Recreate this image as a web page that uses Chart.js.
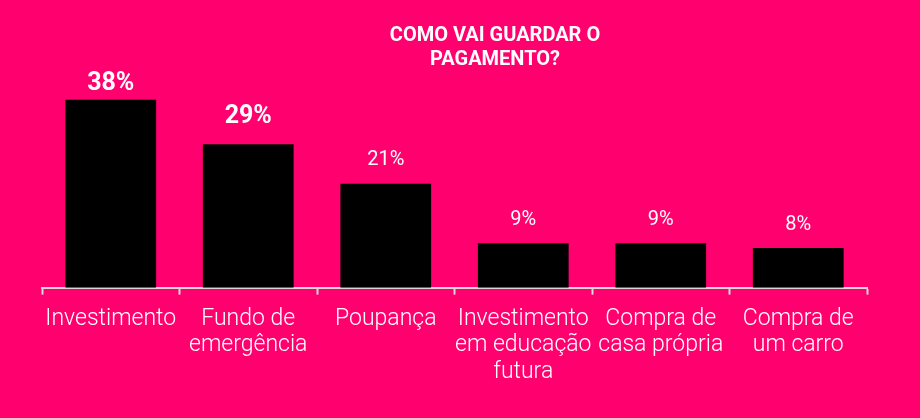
<!DOCTYPE html>
<html>
<head>
<meta charset="utf-8">
<script src="https://cdn.jsdelivr.net/npm/chart.js@4"></script>
<style>
html,body{margin:0;padding:0;background:#ff006e;}
canvas{display:block;}
</style>
</head>
<body>
<canvas id="c" width="920" height="418"></canvas>
<script>
const categories = [
  'Investimento',
  ['Fundo de', 'emergência'],
  'Poupança',
  ['Investimento', 'em educação', 'futura'],
  ['Compra de', 'casa própria'],
  ['Compra de', 'um carro']
];
const values = [38, 29, 21, 9, 9, 8];
const valueLabels = ['38%', '29%', '21%', '9%', '9%', '8%'];
const boldLabels = [true, true, false, false, false, false];
const titleLines = ['COMO VAI GUARDAR O', 'PAGAMENTO?'];

const labelPlugin = {
  id: 'labels',
  afterDatasetsDraw(chart) {
    const ctx = chart.ctx;
    const meta = chart.getDatasetMeta(0);
    ctx.save();
    ctx.fillStyle = '#ffffff';
    ctx.textAlign = 'center';
    ctx.textBaseline = 'middle';
    meta.data.forEach((bar, i) => {
      const bold = boldLabels[i];
      const size = bold ? 25 : 20;
      ctx.font = (bold ? 'bold ' : '') + size + 'px Roboto';
      let y = bar.y - (bold ? 27 : 23.5);
      const minY = chart.chartArea.top + 9;
      if (y < minY) y = minY;
      ctx.fillText(valueLabels[i], bar.x, y);
    });
    // title
    ctx.font = 'bold 20px Roboto';
    titleLines.forEach((t, k) => {
      ctx.fillText(t, 495, 36 + k * 24);
    });
    ctx.restore();
  }
};

new Chart(document.getElementById('c'), {
  type: 'bar',
  data: {
    labels: categories,
    datasets: [{
      data: values,
      backgroundColor: '#000000',
      borderWidth: 0,
      barPercentage: 0.66,
      categoryPercentage: 1
    }]
  },
  options: {
    responsive: false,
    animation: false,
    devicePixelRatio: 1,
    layout: { padding: { left: 42, right: 53, top: 75, bottom: 22 } },
    plugins: {
      legend: { display: false },
      tooltip: { enabled: false },
      title: { display: false }
    },
    scales: {
      y: { display: false, min: 0, max: 43 },
      x: {
        offset: true,
        grid: {
          display: true,
          drawOnChartArea: false,
          drawTicks: true,
          tickLength: 7,
          tickWidth: 2,
          color: '#d9d9d9',
          offset: true
        },
        border: { display: true, color: '#d9d9d9', width: 2 },
        ticks: {
          color: '#ffffff',
          padding: 11,
          maxRotation: 0,
          autoSkip: false,
          font: { family: 'Roboto', size: 23, weight: '300', lineHeight: 1.15 }
        }
      }
    }
  },
  plugins: [labelPlugin]
});
</script>
</body>
</html>
